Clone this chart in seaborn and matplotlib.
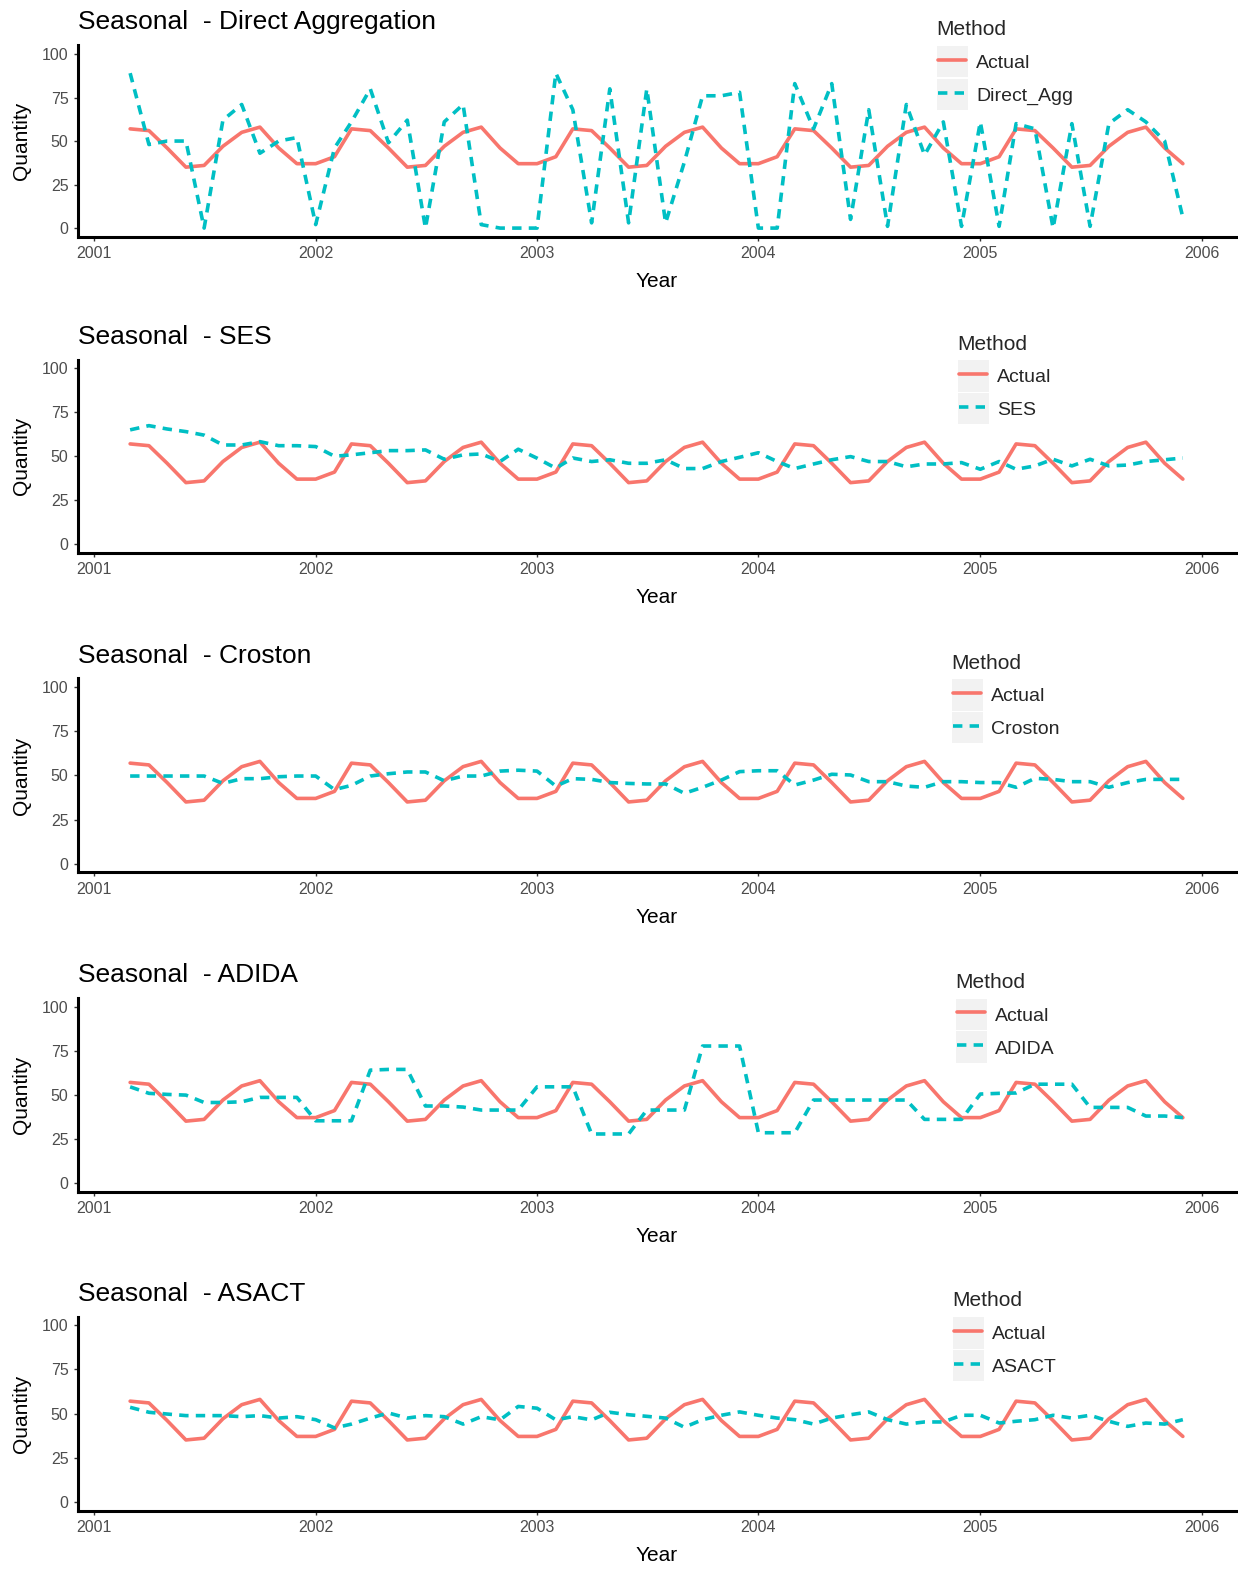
import numpy as np
import pandas as pd
import matplotlib
matplotlib.use("Agg")
import matplotlib.pyplot as plt
import matplotlib.dates as mdates
from matplotlib.patches import Rectangle
from matplotlib.lines import Line2D
from matplotlib.legend_handler import HandlerLine2D
import seaborn as sns

# ---------------- data ----------------
start_month = "2001-03-01"
end_month = "2005-12-01"

actual = [57, 56, 46, 35, 36, 47, 55, 58, 46, 37,
          37, 41, 57, 56, 46, 35, 36, 47, 55, 58, 46, 37,
          37, 41, 57, 56, 46, 35, 36, 47, 55, 58, 46, 37,
          37, 41, 57, 56, 46, 35, 36, 47, 55, 58, 46, 37,
          37, 41, 57, 56, 46, 35, 36, 47, 55, 58, 46, 37]

direct_agg = [89, 48, 50, 50, 0, 62, 71, 43, 50, 52,
              2, 46, 61, 80, 49, 62, 0, 61, 71, 2, 0, 0,
              0, 89, 68, 3, 80, 3, 80, 3, 38, 76, 76, 78,
              0, 0, 83, 57, 83, 5, 68, 1, 71, 42, 61, 1,
              61, 1, 60, 57, 0, 60, 1, 60, 68, 61, 50, 6]

ses = [65, 67.4, 65.5, 64, 62, 56.4, 56.4, 58.3, 56, 56,
       55.5, 50, 50.8, 52, 53.2, 53.2, 53.6, 48.3, 50.8, 51.3, 47, 54,
       48.9, 43.2, 49, 47, 48, 46, 46, 48, 43, 43, 47, 49.4,
       52, 47, 43, 45.6, 48, 49.8, 47, 47, 44, 45.6, 45.6, 46.4,
       42.6, 47, 42.6, 44.5, 48.3, 44.5, 48.3, 44.5, 45, 47, 48, 49]

croston = [49.7, 49.7, 49.7, 49.7, 49.7, 45.5, 48.2, 48.2, 49.3, 49.7,
           49.7, 42, 44.4, 49.7, 51, 52, 52, 47, 49.7, 49.7, 52.5, 53,
           52.5, 44, 48.2, 47.8, 46, 45.5, 45.2, 45.2, 39.9, 43.3, 47.4, 52.2,
           52.7, 52.7, 44.6, 47.4, 50.7, 50.3, 46.5, 46.5, 44, 43.3, 46.5, 46.5,
           46, 46, 43.3, 48.4, 47.8, 46.5, 46.5, 43.3, 46, 47.8, 47.8, 47.8]

adida = [54.5, 50.8, 50.2, 49.8, 45.6, 45.6, 46, 48.5, 48.5, 48.5,
         35.2, 35.2, 35.2, 64, 64.4, 64.4, 43.6, 43.6, 43, 41.3, 41.3, 41.3,
         54.5, 54.5, 54.5, 27.7, 27.7, 27.7, 41.3, 41.3, 41.3, 77.7, 77.7, 77.7,
         28.4, 28.4, 28.4, 47, 47, 47, 47, 47, 47, 36, 36, 36,
         50.4, 50.8, 51, 56, 56, 56, 42.8, 42.8, 42.8, 37.9, 37.9, 37]

asact = [53.5, 50.7, 49.7, 48.8, 48.8, 48.8, 48.2, 48.8, 47.4, 48.2,
         46.5, 41.8, 44, 47.4, 50.3, 47.4, 48.8, 48.2, 44, 48.2, 46.4, 54,
         53, 46.4, 48.2, 46.4, 50.7, 49.3, 48.4, 47.4, 42.2, 46.5, 49, 50.9,
         49, 47.4, 46.5, 44, 47.4, 49.3, 50.9, 46.5, 44, 45.2, 45.2, 49,
         49, 44.6, 45.6, 46.5, 49, 47.4, 49, 45.6, 42.7, 44.6, 44, 46.5]

method_names = ["Direct_Agg", "SES", "Croston", "ADIDA", "ASACT"]
method_values = [direct_agg, ses, croston, adida, asact]
titles = ["Seasonal  - Direct Aggregation", "Seasonal  - SES",
          "Seasonal  - Croston", "Seasonal  - ADIDA", "Seasonal  - ASACT"]
year_ticks = [2001, 2002, 2003, 2004, 2005, 2006]
y_ticks = [0, 25, 50, 75, 100]

# ---------------- style ----------------
sns.set_style("ticks")
plt.rcParams["font.family"] = ["Liberation Sans", "DejaVu Sans"]

ACTUAL_COL = "#F8766D"
METHOD_COL = "#00BFC4"


class KeyHandler(HandlerLine2D):
    def create_artists(self, legend, orig_handle, xdescent, ydescent,
                       width, height, fontsize, trans):
        arts = super().create_artists(legend, orig_handle, xdescent, ydescent,
                                      width, height, fontsize, trans)
        pad_y = legend.labelspacing * fontsize / 2 - 0.4
        rect = Rectangle((-xdescent - 1.0, -ydescent - pad_y), width + 2,
                         height + 2 * pad_y, facecolor="#F2F2F2",
                         edgecolor="none", transform=trans)
        return [rect] + list(arts)


W, H = 1238, 1569
fig = plt.figure(figsize=(W / 100, H / 100), dpi=100)
fig.patch.set_facecolor("white")

dates = pd.date_range(start_month, end_month, freq="MS")
n = len(dates)
dnum = mdates.date2num(dates)
span = dnum.max() - dnum.min()
xlim = (dnum.min() - 0.05 * span, dnum.max() + 0.05 * span)

tops = [45.3, 359.5, 678.5, 998.0, 1316.5]
heights = [191.5, 193.5, 194.0, 193.5, 194.0]
left_px, right_px = 77.5, 1235.5
legend_left = [938, 959, 953, 957, 954]

for i, (m, vals) in enumerate(zip(method_names, method_values)):
    ax = fig.add_axes([left_px / W, 1 - (tops[i] + heights[i]) / H,
                       (right_px - left_px) / W, heights[i] / H])
    df = pd.DataFrame({
        "Year": list(dates) * 2,
        "Quantity": list(actual) + list(vals),
        "Method": ["Actual"] * n + [m] * n,
    })
    sns.lineplot(data=df, x="Year", y="Quantity", hue="Method", style="Method",
                 hue_order=["Actual", m], style_order=["Actual", m],
                 palette={"Actual": ACTUAL_COL, m: METHOD_COL},
                 dashes={"Actual": "", m: (2.6, 2.0)},
                 linewidth=2.6, ax=ax, legend=False)

    ax.set_xlim(*xlim)
    ax.set_ylim(-5, 105)
    ax.set_yticks(y_ticks)
    ax.set_xticks([mdates.date2num(pd.Timestamp(f"{y}-01-01")) for y in year_ticks])
    ax.xaxis.set_major_formatter(mdates.DateFormatter("%Y"))

    sns.despine(ax=ax)
    for s in ["left", "bottom"]:
        ax.spines[s].set_linewidth(2.2)
        ax.spines[s].set_color("black")
    ax.tick_params(axis="both", length=3, width=1, color="#333333",
                   labelsize=11.5, labelcolor="#4D4D4D", pad=3.5)
    ax.set_xlabel("Year", fontsize=15, labelpad=8, color="black")
    ax.set_ylabel("Quantity", fontsize=15, labelpad=8, color="black")
    ax.set_title(titles[i], loc="left", fontsize=19, pad=11.5, color="black")

    handles = ax.lines[:2]
    ax.legend(handles=handles, labels=["Actual", m], title="Method",
              loc="upper left",
              bbox_to_anchor=(legend_left[i] / W, 1 - (tops[i] - 25) / H),
              bbox_transform=fig.transFigure, frameon=False,
              fontsize=14, title_fontsize=15, alignment="left",
              handlelength=1.45, handleheight=1.25, handletextpad=0.5,
              labelspacing=0.62, borderpad=0, borderaxespad=0,
              handler_map={Line2D: KeyHandler()})
    leg = ax.get_legend()
    leg.get_title().set_position((-2, 0))

fig.savefig("out.png", dpi=100, facecolor="white")
